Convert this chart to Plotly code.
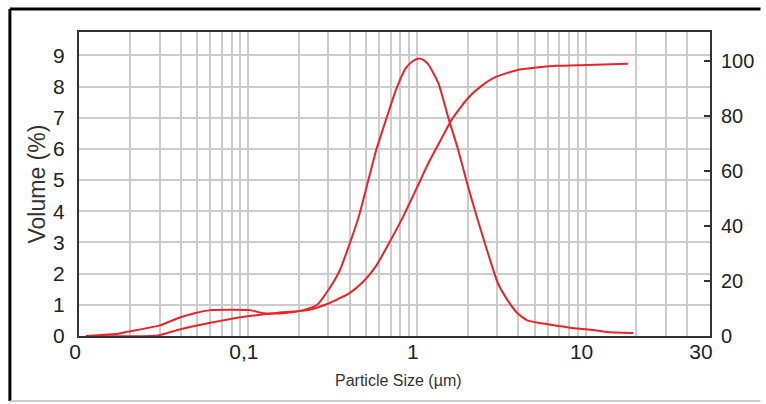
import plotly.graph_objects as go

# ---- data ----
dist_size = [0.011, 0.0171, 0.0196, 0.0305, 0.0384, 0.0483, 0.060, 0.080, 0.103, 0.124, 0.1625,
             0.213, 0.257, 0.305, 0.350, 0.400, 0.452, 0.503, 0.575, 0.659, 0.754, 0.863,
             0.95, 1.028, 1.10, 1.175, 1.345, 1.538, 1.762, 1.988, 2.275, 2.64, 3.02, 3.45,
             3.95, 4.52, 5.46, 6.77, 8.51, 10.7, 13.3, 19.1]
dist_vol = [0.0, 0.07, 0.14, 0.35, 0.57, 0.73, 0.83, 0.84, 0.83, 0.73, 0.73,
            0.83, 1.0, 1.54, 2.1, 2.95, 3.8, 4.75, 5.96, 6.95, 7.9, 8.6,
            8.82, 8.9, 8.85, 8.7, 8.1, 7.0, 5.96, 4.9, 3.8, 2.66, 1.7, 1.15,
            0.73, 0.5, 0.41, 0.33, 0.25, 0.2, 0.13, 0.1]

cum_size = [0.011, 0.0294, 0.0384, 0.060, 0.0948, 0.148, 0.231, 0.305, 0.400, 0.483, 0.575,
            0.686, 0.828, 0.987, 1.175, 1.419, 1.625, 2.014, 2.43, 2.90, 3.95, 4.97,
            6.77, 10.14, 17.8]
cum_pct = [0.0, 0.2, 2.2, 4.8, 7.0, 8.4, 9.5, 12.0, 15.6, 19.8, 25.5,
           33.8, 43.2, 53.0, 63.0, 72.4, 79.0, 86.5, 91.0, 94.0, 96.7, 97.5,
           98.2, 98.5, 99.0]

x_grid_vals = [0.02, 0.03, 0.04, 0.05, 0.06, 0.07, 0.08, 0.09, 0.1,
               0.2, 0.3, 0.4, 0.5, 0.6, 0.7, 0.8, 0.9, 1,
               2, 3, 4, 5, 6, 7, 8, 9, 10, 20, 30, 40]
x_label_vals = [0.01, 0.1, 1, 10, 51]
x_label_text = ["0", "0,1", "1", "10", "30"]
y_left_ticks = [0, 1, 2, 3, 4, 5, 6, 7, 8, 9]
y_right_ticks = [0, 20, 40, 60, 80, 100]

RED = "#e8232b"
AXC = "#333333"
GRID = "#cccccc"
FONT = "Liberation Sans, Arial, sans-serif"

fig = go.Figure()
fig.add_trace(go.Scatter(x=dist_size, y=dist_vol, mode="lines",
                         line=dict(color=RED, width=2, shape="spline", smoothing=0.5),
                         xaxis="x", yaxis="y", showlegend=False, hoverinfo="skip"))
fig.add_trace(go.Scatter(x=cum_size, y=cum_pct, mode="lines",
                         line=dict(color=RED, width=2, shape="spline", smoothing=0.5),
                         xaxis="x", yaxis="y2", showlegend=False, hoverinfo="skip"))
# invisible carrier so the label axis is drawn
fig.add_trace(go.Scatter(x=x_label_vals, y=[0] * len(x_label_vals), mode="markers",
                         marker=dict(opacity=0, size=1), xaxis="x3", yaxis="y",
                         showlegend=False, hoverinfo="skip"))

xr = [-2.0005, 1.737]
fig.update_layout(
    width=766, height=404,
    margin=dict(l=79, r=48, t=32, b=68),
    paper_bgcolor="white", plot_bgcolor="white",
    xaxis=dict(type="log", range=xr, tickmode="array", tickvals=x_grid_vals,
               showticklabels=False, ticks="", showgrid=True, gridcolor=GRID, gridwidth=2,
               showline=True, linecolor=AXC, linewidth=2, mirror=True, zeroline=False),
    xaxis3=dict(type="log", range=xr, overlaying="x", anchor="y", side="bottom",
                tickmode="array", tickvals=x_label_vals, ticktext=x_label_text,
                showgrid=False, ticks="", showline=False, zeroline=False,
                ticklabelshift=-4, ticklabelstandoff=1,
                tickfont=dict(family=FONT, size=21, color="#222")),
    yaxis=dict(range=[0, 9.75], tickmode="array", tickvals=y_left_ticks,
               showgrid=True, gridcolor=GRID, gridwidth=2, ticks="",
               showline=True, linecolor=AXC, linewidth=2, mirror=True, zeroline=False,
               ticklabelstandoff=8,
               tickfont=dict(family=FONT, size=21, color="#222")),
    yaxis2=dict(range=[0, 110.5], overlaying="y", anchor="x", side="right",
                tickmode="array", tickvals=y_right_ticks, showgrid=False,
                ticks="inside", ticklen=6, tickwidth=1.5, tickcolor=AXC,
                showline=False, zeroline=False, ticklabelstandoff=10,
                tickfont=dict(family=FONT, size=20, color="#222")),
    annotations=[
        dict(text="Volume (%)", xref="paper", yref="paper", x=-0.0673, y=0.5,
             textangle=-90, showarrow=False, xanchor="center", yanchor="middle",
             font=dict(family=FONT, size=23, color="#333")),
        dict(text="Particle Size (µm)", xref="paper", yref="paper", x=0.506, y=-0.148,
             showarrow=False, xanchor="center", yanchor="middle",
             font=dict(family=FONT, size=16, color="#333")),
    ],
    shapes=[
        dict(type="line", xref="paper", yref="paper", x0=-0.1095, x1=-0.1095,
             y0=-0.2138, y1=1.0757, line=dict(color="black", width=3)),
        dict(type="line", xref="paper", yref="paper", x0=-0.1095, x1=1.08,
             y0=1.0757, y1=1.0757, line=dict(color="black", width=3)),
        dict(type="line", xref="paper", yref="paper", x0=-0.1095, x1=1.08,
             y0=-0.2138, y1=-0.2138, line=dict(color="#bbbbbb", width=1.5)),
    ],
)

fig.write_html("out.html")
